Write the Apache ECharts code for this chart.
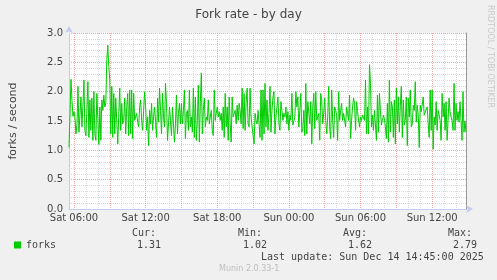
<!DOCTYPE html>
<html><head><meta charset="utf-8">
<script src="https://cdn.jsdelivr.net/npm/echarts@6/dist/echarts.min.js"></script>
<style>html,body{margin:0;padding:0;background:#f0f0f0}#c{width:497px;height:280px}</style>
</head><body><div id="c"></div>
<script>
const chartTitle = 'Fork rate - by day';
const yAxisName = 'forks / second';
const seriesName = 'forks';
const dayNames = ['Sat', 'Sun'];
const startMinute = 335;   // Sat 05:35
const stepMinutes = 5;
const tickLabels = ['Sat 06:00', 'Sat 12:00', 'Sat 18:00', 'Sun 00:00', 'Sun 06:00', 'Sun 12:00'];
const statNames = ['Cur:', 'Min:', 'Avg:', 'Max:'];
const statValues = ['1.31', '1.02', '1.62', '2.79'];
const lastUpdate = 'Last update: Sun Dec 14 14:45:00 2025';
const footer = 'Munin 2.0.33-1';
const sideText = 'RRDTOOL / TOBI OETIKER';

const forks = [
 1.05,1.60,2.21,1.85,1.58,1.66,1.55,1.28,1.43,2.09,1.31,1.60,1.91,1.40,1.75,2.20,1.34,1.25,1.70,2.17,
 1.22,1.86,1.34,1.89,1.17,2.00,1.28,1.17,1.97,1.55,1.10,1.74,1.17,1.86,1.68,1.94,1.74,1.80,2.55,2.79,
 2.43,2.20,1.28,2.09,1.22,1.97,1.28,1.89,1.50,1.11,1.60,2.06,1.34,1.80,1.45,
 1.51,1.89,1.28,1.74,1.97,1.25,2.03,1.28,2.03,1.20,1.97,1.51,1.57,1.63,1.48,1.40,1.74,1.86,1.51,1.34,
 1.68,2.00,1.74,1.34,1.57,1.08,1.68,1.45,1.80,1.34,1.57,1.74,1.48,1.22,1.89,1.48,2.06,1.68,1.28,1.97,
 1.57,1.40,2.14,1.80,1.17,1.45,1.74,1.51,1.25,1.74,1.71,1.14,1.45,1.94,1.28,1.63,1.80,1.45,
 1.80,1.45,1.68,2.03,1.20,1.63,1.68,1.34,2.03,1.40,1.57,1.31,2.06,1.22,1.91,1.17,1.51,2.11,1.14,1.80,
 2.32,1.28,1.68,1.89,1.40,1.57,1.51,1.86,1.45,1.57,1.68,1.34,1.25,2.03,1.51,1.63,1.74,1.57,1.66,1.51,
 1.63,1.34,1.74,1.22,1.97,1.40,1.74,1.17,1.91,1.45,1.14,1.91,1.57,1.63,1.68,1.45,1.77,1.51,
 1.80,1.68,1.45,2.06,1.37,1.97,1.34,1.80,2.06,1.45,1.40,2.06,1.57,1.60,1.60,1.11,1.63,1.51,1.45,1.68,
 1.71,1.22,2.03,1.17,2.03,1.28,2.14,1.40,1.86,1.34,1.63,2.09,1.31,1.68,1.91,2.00,1.28,1.57,1.74,1.91,
 1.45,1.34,1.83,1.68,1.51,1.63,1.57,1.74,1.45,1.66,1.34,1.60,1.51,1.97,1.43,1.45,1.57,2.00,
 1.74,1.91,1.40,1.68,1.97,1.31,1.37,1.68,1.25,2.14,1.28,1.83,1.80,1.45,1.83,1.11,1.74,1.97,1.37,2.00,
 1.51,1.51,1.63,1.17,1.97,1.86,1.45,1.63,1.89,1.51,1.28,1.57,2.09,1.40,1.20,2.03,1.51,1.22,1.74,1.68,
 1.60,1.17,2.00,1.51,1.68,1.80,1.51,1.63,1.66,1.40,1.74,1.63,1.51,1.94,1.20,1.51,1.74,1.89,
 1.80,1.34,1.83,1.66,1.68,1.40,1.57,1.51,1.60,1.57,1.51,2.20,1.28,1.74,1.28,2.46,2.14,1.40,1.60,1.34,
 1.68,1.71,1.17,1.94,1.31,1.97,1.68,1.43,1.51,1.60,1.54,1.40,1.20,1.80,1.14,2.20,1.31,1.83,1.74,1.22,
 1.86,1.11,2.06,1.45,1.91,1.31,1.77,2.09,1.22,1.86,1.43,1.51,1.91,1.08,1.89,1.57,2.03,1.40,
 1.45,1.77,1.68,2.17,1.48,1.77,1.60,1.05,1.77,1.66,1.63,1.91,1.60,1.57,1.63,1.74,1.45,1.22,2.03,1.34,
 2.03,1.02,1.57,1.43,1.83,1.34,1.68,1.71,1.51,1.17,1.97,1.57,1.80,1.34,1.83,1.17,1.51,1.89,1.66,1.57,
 1.51,1.34,2.14,1.34,1.80,1.51,1.66,1.48,1.83,1.51,1.17,2.00,1.31,1.50,1.31
];

const pad = n => (n < 10 ? '0' : '') + n;
const categories = forks.map((_, i) => {
  const m = startMinute + i * stepMinutes;
  return dayNames[Math.floor(m / 1440)] + ' ' + pad(Math.floor((m % 1440) / 60)) + ':' + pad(m % 60);
});
const isHour = (idx, v) => v.endsWith(':00');
const isMajor = (idx, v) => v.endsWith(':00') && (+v.slice(4, 6)) % 3 === 0;

const txt = '#444';
const axisColor = '#c6cbf2';
const graphics = [];
const statX = [132, 238, 343, 448];
statNames.forEach((n, i) => {
  graphics.push({type: 'text', left: statX[i], top: 228, style: {text: n, font: '10px "DejaVu Sans Mono"', fill: txt}});
  graphics.push({type: 'text', left: statX[i] + 5, top: 240, style: {text: statValues[i], font: '10px "DejaVu Sans Mono"', fill: txt}});
});
graphics.push({type: 'text', left: 261, top: 252, style: {text: lastUpdate, font: '10px "DejaVu Sans Mono"', fill: txt}});
graphics.push({type: 'text', left: 219, top: 265, style: {text: footer, font: '8px "DejaVu Sans"', fill: '#bdbdbd'}});
graphics.push({type: 'text', x: 494, y: 5, rotation: -Math.PI / 2,
  style: {text: sideText, font: '8px "DejaVu Sans"', fill: '#c8c8c8', align: 'left', verticalAlign: 'top'}});

const chart = echarts.init(document.getElementById('c'), null, {renderer: 'canvas'});
chart.setOption({
  animation: false,
  backgroundColor: '#f0f0f0',
  title: {text: chartTitle, left: 'center', top: 4,
    textStyle: {fontFamily: 'DejaVu Sans', fontSize: 12, fontWeight: 'normal', color: txt}},
  grid: {left: 67, top: 33, width: 399, height: 176, show: true, backgroundColor: '#ffffff', borderWidth: 0},
  legend: {left: 14, top: 240, padding: 0, icon: 'rect', itemWidth: 7, itemHeight: 7, itemGap: 5,
    data: [seriesName], textStyle: {fontFamily: 'DejaVu Sans Mono', fontSize: 10, color: txt}},
  xAxis: [{
    type: 'category', data: categories, boundaryGap: false,
    axisLine: {show: true, lineStyle: {color: axisColor}, symbol: ['none', 'arrow'], symbolSize: [6, 7], symbolOffset: [0, 7]},
    axisTick: {show: false},
    axisLabel: {interval: (i, v) => tickLabels.includes(v), margin: 4, color: txt, fontFamily: 'DejaVu Sans', fontSize: 10},
    splitLine: {show: true, interval: isHour, lineStyle: {color: '#d8d8d8', type: [1, 1], width: 1}}
  }, {
    type: 'category', data: categories, boundaryGap: false, position: 'bottom',
    axisLine: {show: false}, axisTick: {show: false}, axisLabel: {show: false},
    splitLine: {show: true, interval: isMajor, lineStyle: {color: '#f2a6a6', type: [1, 1], width: 1}}
  }],
  yAxis: [{
    type: 'value', min: 0, max: 3, interval: 0.5,
    name: yAxisName, nameLocation: 'middle', nameGap: 50, nameRotate: 90,
    nameTextStyle: {fontFamily: 'DejaVu Sans', fontSize: 11, color: txt},
    axisLine: {show: true, lineStyle: {color: axisColor}, symbol: ['none', 'arrow'], symbolSize: [6, 7], symbolOffset: [0, 7]},
    axisTick: {show: false},
    axisLabel: {formatter: v => v.toFixed(1), margin: 6, color: txt, fontFamily: 'DejaVu Sans', fontSize: 10},
    splitLine: {show: true, lineStyle: {color: '#f2a6a6', type: [1, 1], width: 1}},
    minorTick: {show: false, splitNumber: 5},
    minorSplitLine: {show: true, lineStyle: {color: '#d8d8d8', type: [1, 1], width: 1}}
  }, {
    type: 'value', min: 0, max: 3, position: 'right',
    axisLine: {show: true, lineStyle: {color: '#9a9a9a'}}, axisTick: {show: false},
    axisLabel: {show: false}, splitLine: {show: false}
  }],
  series: [{
    name: seriesName, type: 'line', data: forks, xAxisIndex: 0, yAxisIndex: 0,
    showSymbol: false, symbol: 'none', color: '#00cc00',
    lineStyle: {color: '#00cc00', width: 1}, z: 5
  }],
  graphic: graphics
});
</script></body></html>
